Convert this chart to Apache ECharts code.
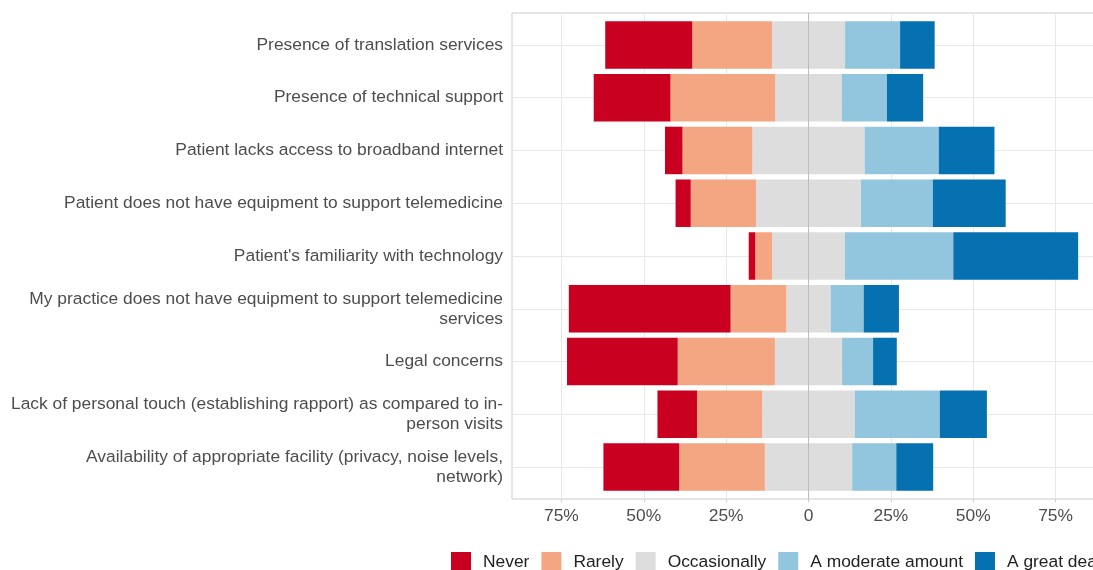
<!DOCTYPE html>
<html>
<head>
<meta charset="utf-8">
<script src="https://cdn.jsdelivr.net/npm/echarts@6/dist/echarts.min.js"></script>
<style>
  html, body { margin: 0; padding: 0; background: #fff; }
  #chart { width: 1093px; height: 570px; }
</style>
</head>
<body>
<div id="chart"></div>
<script>
// rows from top to bottom
const categories = [
  "Presence of translation services",
  "Presence of technical support",
  "Patient lacks access to broadband internet",
  "Patient does not have equipment to support telemedicine",
  "Patient's familiarity with technology",
  "My practice does not have equipment to support telemedicine\nservices",
  "Legal concerns",
  "Lack of personal touch (establishing rapport) as compared to in-\nperson visits",
  "Availability of appropriate facility (privacy, noise levels,\nnetwork)"
];

// percent of respondents
const never        = [26.4, 23.3, 5.3, 4.6, 2.0, 49.1, 33.6, 12.0, 23.0];
const rarely       = [24.2, 31.8, 21.2, 19.8, 5.1, 16.9, 29.5, 19.8, 26.0];
const occasionally = [22.2, 20.2, 34.1, 31.9, 22.1, 13.5, 20.4, 28.1, 26.5];
const moderate     = [16.7, 13.7, 22.5, 21.8, 32.9, 10.0, 9.4, 25.8, 13.4];
const greatDeal    = [10.5, 11.0, 16.9, 22.1, 37.9, 10.7, 7.2, 14.3, 11.2];

// x ticks (labels show the absolute value)
const tickValues = [-75, -50, -25, 0, 25, 50, 75];

const levels = ["Never", "Rarely", "Occasionally", "A moderate amount", "A great deal"];
const colors = ["#ca0020", "#f4a582", "#dddddd", "#92c5de", "#0571b0"];

const FONT = "Liberation Sans, Arial, sans-serif";
const gridColor = "#e8e8e8";

const halfOcc = occasionally.map(v => v / 2);

function barSeries(name, color, data, extra) {
  return Object.assign({
    name: name,
    type: "bar",
    stack: "likert",
    xAxisIndex: 0,
    yAxisIndex: 0,
    barCategoryGap: "10%",
    itemStyle: { color: color },
    emphasis: { disabled: true },
    animation: false,
    data: data
  }, extra || {});
}

const chart = echarts.init(document.getElementById("chart"), null, { renderer: "canvas" });

chart.setOption({
  backgroundColor: "#fff",
  textStyle: { fontFamily: FONT },
  animation: false,
  grid: [
    // bars
    { left: 512, width: 593, top: 18.5, bottom: 76.5, outerBoundsMode: "none" },
    // panel: border, vertical grid lines, x labels (runs past the right edge, like the source)
    { left: 512, width: 593, top: 13, bottom: 71, outerBoundsMode: "none", show: true, borderColor: "#cccccc", borderWidth: 1, backgroundColor: "transparent" }
  ],
  legend: {
    data: levels,
    left: 451,
    top: 552,
    width: 1200,
    padding: 0,
    orient: "horizontal",
    icon: "rect",
    itemWidth: 20,
    itemHeight: 20,
    itemGap: 12,
    selectedMode: false,
    textStyle: { fontFamily: FONT, fontSize: 17.4, color: "#222", padding: [0, 0, 0, 7] }
  },
  xAxis: [
    { gridIndex: 0, type: "value", min: -90, max: 90, show: false, splitLine: { show: false } },
    {
      gridIndex: 1, type: "value", min: -90, max: 90,
      axisLine: { show: false },
      axisTick: { show: true, length: 3, customValues: tickValues, lineStyle: { color: "#cccccc" } },
      splitLine: { show: true, lineStyle: { color: gridColor, width: 1 } },
      axisLabel: {
        customValues: tickValues,
        margin: 9,
        fontFamily: FONT, fontSize: 17.4, color: "#4d4d4d",
        formatter: v => (v === 0 ? "0" : Math.abs(v) + "%")
      }
    }
  ],
  yAxis: [
    {
      gridIndex: 0, type: "category", inverse: true, data: categories,
      axisLine: { show: false },
      axisTick: { show: true, alignWithLabel: true, length: 5, lineStyle: { color: "#cccccc" } },
      splitLine: { show: false },
      axisLabel: { margin: 9, fontFamily: FONT, fontSize: 17.4, lineHeight: 20, color: "#4d4d4d", align: "right" }
    },
    { gridIndex: 1, type: "value", min: 0, max: 1, show: false, splitLine: { show: false } }
  ],
  series: [
    barSeries("Occasionally", colors[2], halfOcc.map(v => -v), {
      markLine: {
        z: 1,
        silent: true,
        symbol: ["none", "none"],
        label: { show: false },
        emphasis: { disabled: true },
        animation: false,
        lineStyle: { color: gridColor, type: "solid", width: 1 },
        data: categories.map(c => ({ yAxis: c }))
      }
    }),
    barSeries("Occasionally", colors[2], halfOcc),
    barSeries("Rarely", colors[1], rarely.map(v => -v)),
    barSeries("A moderate amount", colors[3], moderate),
    barSeries("Never", colors[0], never.map(v => -v)),
    barSeries("A great deal", colors[4], greatDeal),
    {
      // zero reference line across the whole panel
      name: "zero",
      type: "line",
      xAxisIndex: 1,
      yAxisIndex: 1,
      data: [],
      markLine: {
        z: 10,
        silent: true,
        symbol: ["none", "none"],
        label: { show: false },
        emphasis: { disabled: true },
        animation: false,
        lineStyle: { color: "#bdbdbd", type: "solid", width: 1 },
        data: [{ xAxis: 0 }]
      }
    }
  ]
});
</script>
</body>
</html>
